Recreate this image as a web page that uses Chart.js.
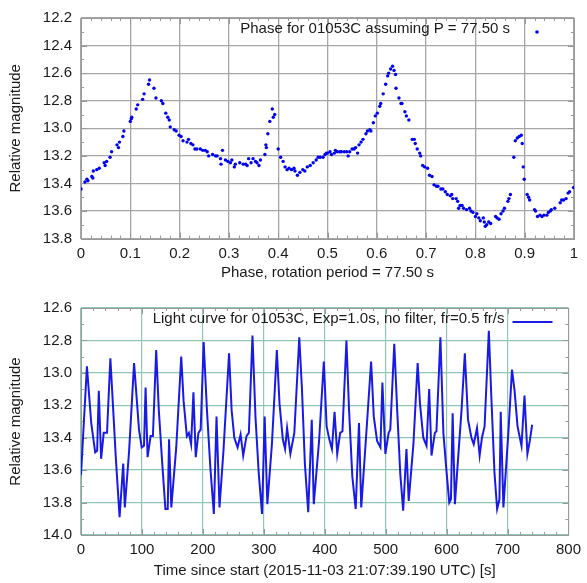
<!DOCTYPE html>
<html>
<head>
<meta charset="utf-8">
<script src="https://cdn.jsdelivr.net/npm/chart.js@4/dist/chart.umd.min.js"></script>
<style>
  body { margin: 0; background: #fff; }
  canvas { display: block; }
</style>
</head>
<body>
<canvas id="phaseChart" width="587" height="290"></canvas>
<canvas id="lightChart" width="587" height="293"></canvas>
<script>
// folded data, phase 0..1
const phase = [
  0.000, 0.008, 0.012, 0.014, 0.022, 0.024, 0.025, 0.032, 0.037, 0.047, 0.049, 0.052, 0.059, 0.062,
  0.073, 0.076, 0.078, 0.085, 0.087, 0.100, 0.102, 0.103, 0.112, 0.115, 0.125, 0.128, 0.137, 0.139,
  0.148, 0.152, 0.163, 0.166, 0.172, 0.176, 0.179, 0.181, 0.189, 0.193, 0.199, 0.203, 0.207, 0.215,
  0.218, 0.223, 0.227, 0.231, 0.235, 0.242, 0.247, 0.252, 0.256, 0.259, 0.267, 0.273, 0.276, 0.283,
  0.284, 0.287, 0.293, 0.298, 0.303, 0.306, 0.311, 0.313, 0.322, 0.329, 0.334, 0.337, 0.340, 0.345,
  0.349, 0.354, 0.357, 0.361, 0.364, 0.373, 0.375, 0.376, 0.379, 0.383, 0.388, 0.390, 0.393, 0.400,
  0.405, 0.410, 0.414, 0.418, 0.422, 0.427, 0.432, 0.434, 0.439, 0.444, 0.450, 0.454, 0.459, 0.465,
  0.471, 0.477, 0.481, 0.485, 0.491, 0.495, 0.498, 0.500, 0.505, 0.508, 0.514, 0.516, 0.520, 0.525,
  0.528, 0.534, 0.539, 0.542, 0.545, 0.550, 0.554, 0.557, 0.561, 0.564, 0.568, 0.572, 0.578, 0.581,
  0.586, 0.588, 0.593, 0.597, 0.601, 0.606, 0.608, 0.613, 0.618, 0.622, 0.624, 0.628, 0.632, 0.635,
  0.638, 0.639, 0.645, 0.649, 0.651, 0.657, 0.660, 0.665, 0.672, 0.676, 0.678, 0.682, 0.687, 0.689,
  0.693, 0.697, 0.703, 0.707, 0.712, 0.716, 0.721, 0.724, 0.730, 0.734, 0.739, 0.743, 0.749, 0.752,
  0.754, 0.761, 0.764, 0.766, 0.769, 0.773, 0.776, 0.782, 0.788, 0.791, 0.795, 0.800, 0.803, 0.807,
  0.810, 0.816, 0.818, 0.820, 0.823, 0.827, 0.831, 0.841, 0.844, 0.848, 0.852, 0.856, 0.859, 0.866,
  0.868, 0.871, 0.878, 0.881, 0.885, 0.889, 0.893, 0.895, 0.897, 0.899, 0.905, 0.908, 0.910, 0.920,
  0.922, 0.926, 0.931, 0.935, 0.939, 0.945, 0.948, 0.952, 0.954, 0.961, 0.972, 0.975, 0.979, 0.984,
  0.988, 0.991, 0.999
];
const phaseMag = [
  13.44, 13.39, 13.37, 13.38, 13.35, 13.36, 13.31, 13.30, 13.29, 13.25, 13.27, 13.24, 13.21, 13.17,
  13.12, 13.14, 13.10, 13.06, 13.02, 12.95, 12.93, 12.92, 12.86, 12.83, 12.79, 12.75, 12.68, 12.65,
  12.71, 12.78, 12.80, 12.82, 12.89, 12.92, 12.94, 12.99, 13.01, 13.02, 13.05, 13.06, 13.09, 13.10,
  13.08, 13.11, 13.12, 13.15, 13.15, 13.15, 13.16, 13.16, 13.17, 13.20, 13.19, 13.20, 13.20, 13.22,
  13.26, 13.16, 13.23, 13.24, 13.25, 13.23, 13.28, 13.26, 13.25, 13.26, 13.26, 13.27, 13.22, 13.25,
  13.22, 13.24, 13.25, 13.27, 13.23, 13.19, 13.12, 13.14, 13.04, 12.95, 12.86, 12.92, 12.90, 13.15,
  13.21, 13.24, 13.28, 13.30, 13.29, 13.30, 13.29, 13.31, 13.34, 13.32, 13.30, 13.31, 13.28, 13.27,
  13.25, 13.23, 13.21, 13.21, 13.21, 13.19, 13.18, 13.18, 13.17, 13.19, 13.18, 13.16, 13.17, 13.17,
  13.17, 13.17, 13.17, 13.20, 13.17, 13.15, 13.15, 13.14, 13.18, 13.12, 13.10, 13.08, 13.04, 13.02,
  13.01, 13.02, 12.96, 12.91, 12.89, 12.84, 12.82, 12.75, 12.68, 12.62, 12.60, 12.57, 12.55, 12.58,
  12.61, 12.71, 12.78, 12.82, 12.82, 12.88, 12.91, 12.94, 13.08, 13.08, 13.11, 13.15, 13.18, 13.20,
  13.27, 13.28, 13.29, 13.34, 13.35, 13.41, 13.42, 13.42, 13.44, 13.44, 13.46, 13.48, 13.49, 13.48,
  13.51, 13.51, 13.53, 13.58, 13.56, 13.56, 13.58, 13.59, 13.58, 13.60, 13.61, 13.64, 13.62, 13.65,
  13.67, 13.65, 13.68, 13.71, 13.70, 13.68, 13.69, 13.64, 13.65, 13.66, 13.62, 13.60, 13.58, 13.53,
  13.51, 13.48, 13.21, 13.09, 13.07, 13.06, 13.05, 13.11, 13.28, 13.37, 13.48, 13.50, 13.52, 13.59,
  13.60, 13.64, 13.63, 13.64, 13.63, 13.63, 13.61, 13.60, 13.59, 13.58, 13.54, 13.52, 13.52, 13.51,
  13.47, 13.46, 13.43
];

// light curve, seconds since start
const timeSec = [
  0, 9.7, 16.8, 23.3, 26.5, 29.2, 33, 37.3, 42.7, 48.2, 52, 57.4, 63.3, 69.3, 71.9, 79, 87.1, 95.2,
  99.6, 103.4, 106, 109.3, 114.2, 118, 123.4, 127.7, 133, 138.5, 142.3, 144.5, 148.2, 156.3, 164.5,
  168.3, 173.7, 177, 180.7, 184.5, 188.3, 192.7, 196.4, 201.3, 206.7, 212.2, 218, 222.4, 227.3, 233.8,
  243, 247.2, 251.6, 257, 261.9, 266.2, 271.6, 275.5, 281.4, 286.3, 291.7, 297.1, 301.4, 305.8, 313.3,
  321.4, 325.8, 331.2, 334.9, 338.2, 343.6, 350.1, 358.2, 362.5, 367.4, 372.9, 378.7, 382, 390.7,
  398.5, 403.1, 407.5, 411.8, 416.1, 420.5, 425.3, 429.1, 435.6, 439.9, 445.3, 450.8, 456.2, 459.9,
  467, 476.1, 480.5, 485.9, 491.4, 494.6, 499.5, 504.9, 507.6, 514.1, 518.9, 523.9, 528.7, 534.1,
  537.8, 545.5, 552.5, 556.3, 561.7, 567, 571.4, 575.2, 580.7, 583.3, 589.8, 594.7, 600.1, 604.4,
  607.1, 609.9, 613.6, 619, 624.5, 629.9, 635.2, 640.7, 644.5, 649.9, 654.2, 658, 662.3, 669.3,
  673.2, 678.6, 682.9, 686.7, 688.8, 693.2, 701.3, 707.3, 711.5, 716.4, 722.9, 727.8, 732.6, 736.5,
  740.4
];
const lightMag = [
  13.63, 12.96, 13.31, 13.49, 13.48, 13.11, 13.53, 13.37, 13.37, 12.91, 13.17, 13.54, 13.89, 13.56, 13.83, 13.48, 12.94, 13.35,
  13.46, 13.45, 13.09, 13.52, 13.39, 13.39, 12.86, 13.23, 13.54, 13.84, 13.84, 13.41, 13.83, 13.46, 12.90,
  13.17, 13.39, 13.37, 13.44, 13.12, 13.52, 13.37, 13.35, 12.81, 13.23, 13.58, 13.87, 13.27, 13.83, 13.48,
  12.88, 13.23, 13.40, 13.46, 13.38, 13.51, 13.39, 13.37, 12.77, 13.27, 13.62, 13.87, 13.27, 13.81, 13.44,
  12.86, 13.19, 13.41, 13.47, 13.34, 13.50, 13.37, 12.78, 13.09, 13.56, 13.86, 13.29, 13.81, 13.42,
  12.93, 13.33, 13.41, 13.47, 13.24, 13.50, 13.37, 13.36, 12.80, 13.23, 13.64, 13.84, 13.31, 13.83,
  13.44, 12.93, 13.27, 13.42, 13.46, 13.06, 13.50, 13.37, 13.35, 12.82, 13.23, 13.62, 13.85, 13.47,
  13.79, 13.44, 12.94, 13.19, 13.40, 13.45, 13.10, 13.51, 13.37, 13.36, 12.78, 13.37, 13.62, 13.80,
  13.78, 13.25, 13.81, 13.52, 13.23, 12.88, 13.29, 13.40, 13.44, 13.34, 13.51, 13.40, 13.33, 12.74,
  13.13, 13.62, 13.84, 13.78, 13.24, 13.83, 13.37, 12.98, 13.11, 13.33, 13.45, 13.14, 13.50, 13.42,
  13.32
];

const phaseLabel = 'Phase for 01053C assuming P = 77.50 s';
const lightLabel = 'Light curve for 01053C, Exp=1.0s, no filter, fr=0.5 fr/s';
const yTitle = 'Relative magnitude';
const phaseXTitle = 'Phase, rotation period = 77.50 s';
const lightXTitle = 'Time since start (2015-11-03 21:07:39.190 UTC) [s]';

Chart.defaults.font.family = '"Liberation Sans", Arial, sans-serif';
Chart.defaults.font.size = 15;
Chart.defaults.color = '#1a1a1a';

// gnuplot-like frame with small inward ticks on all four sides
const framePlugin = {
  id: 'frame',
  beforeDatasetsDraw(chart, args, opts) {
    const { ctx, chartArea: a } = chart;
    const xs = chart.scales.x, ys = chart.scales.y;
    ctx.save();
    ctx.strokeStyle = opts.color;
    ctx.lineWidth = 1;
    ctx.beginPath();
    for (let i = 0; ; i++) {
      const v = xs.min + i * opts.xStep;
      if (v > xs.max + 1e-9) break;
      const px = Math.round(xs.getPixelForValue(v)) + 0.5;
      const len = i % opts.xEvery === 0 ? 6 : 3;
      ctx.moveTo(px, a.bottom); ctx.lineTo(px, a.bottom - len);
      ctx.moveTo(px, a.top); ctx.lineTo(px, a.top + len);
    }
    for (let i = 0; ; i++) {
      const v = ys.min + i * opts.yStep;
      if (v > ys.max + 1e-9) break;
      const py = Math.round(ys.getPixelForValue(v)) + 0.5;
      const len = i % opts.yEvery === 0 ? 6 : 3;
      ctx.moveTo(a.left, py); ctx.lineTo(a.left + len, py);
      ctx.moveTo(a.right, py); ctx.lineTo(a.right - len, py);
    }
    ctx.stroke();
    ctx.strokeRect(Math.round(a.left) + 0.5, Math.round(a.top) + 0.5,
      Math.round(a.width), Math.round(a.height));
    ctx.restore();
  }
};

// key drawn inside the plot, text first then sample (gnuplot style)
const keyPlugin = {
  id: 'key',
  afterDatasetsDraw(chart, args, opts) {
    const { ctx, chartArea: a } = chart;
    const ds = chart.data.datasets[0];
    const y = a.top + 11;
    ctx.save();
    ctx.font = '15px "Liberation Sans", Arial, sans-serif';
    ctx.fillStyle = '#1a1a1a';
    ctx.textAlign = 'right';
    ctx.textBaseline = 'middle';
    ctx.fillText(ds.label, a.right - 64, y);
    if (opts.sample === 'dot') {
      ctx.fillStyle = ds.backgroundColor;
      ctx.beginPath();
      ctx.arc(a.right - 37, y + 3, 1.8, 0, Math.PI * 2);
      ctx.fill();
    } else {
      ctx.strokeStyle = ds.borderColor;
      ctx.lineWidth = ds.borderWidth;
      ctx.beginPath();
      ctx.moveTo(a.right - 56, y + 3);
      ctx.lineTo(a.right - 16, y + 3);
      ctx.stroke();
    }
    ctx.restore();
  }
};

function yAxis(min, max, gridColor) {
  return {
    type: 'linear', reverse: true, min: min, max: max,
    afterFit: (s) => { s.width = 81; },
    ticks: { stepSize: 0.2, padding: 9, callback: (v) => v.toFixed(1) },
    grid: { color: gridColor, lineWidth: 1.3, drawTicks: false },
    border: { display: false },
    title: { display: true, text: yTitle, padding: { top: 7, bottom: 0 } }
  };
}

new Chart(document.getElementById('phaseChart'), {
  type: 'scatter',
  data: {
    datasets: [{
      label: phaseLabel,
      data: phase.map((p, i) => ({ x: p, y: phaseMag[i] })),
      backgroundColor: '#0000f0',
      borderWidth: 0,
      pointRadius: 1.7
    }]
  },
  options: {
    responsive: false,
    animation: false,
    layout: { padding: { left: 0, right: 13, top: 11.6, bottom: 0 } },
    scales: {
      x: {
        type: 'linear', min: 0, max: 1,
        afterFit: (s) => { s.height = 51.4; },
        ticks: { stepSize: 0.1, padding: 6, maxRotation: 0, callback: (v) => String(+v.toFixed(2)) },
        grid: { color: '#a6a6a6', lineWidth: 1.3, drawTicks: false },
        border: { display: false },
        title: { display: true, text: phaseXTitle, padding: { top: 0, bottom: 8 } }
      },
      y: yAxis(12.2, 13.8, '#a6a6a6')
    },
    plugins: {
      legend: { display: false },
      tooltip: { enabled: false },
      frame: { color: '#999', xStep: 0.02, xEvery: 5, yStep: 0.1, yEvery: 2 },
      key: { sample: 'dot' }
    }
  },
  plugins: [framePlugin, keyPlugin]
});

new Chart(document.getElementById('lightChart'), {
  type: 'line',
  data: {
    datasets: [{
      label: lightLabel,
      data: timeSec.map((t, i) => ({ x: t, y: lightMag[i] })),
      borderColor: '#1a1ae6',
      borderWidth: 2,
      pointRadius: 0,
      tension: 0,
      fill: false
    }]
  },
  options: {
    responsive: false,
    animation: false,
    layout: { padding: { left: 0, right: 13, top: 17, bottom: 0 } },
    scales: {
      x: {
        type: 'linear', min: 0, max: 800,
        afterFit: (s) => { s.height = 48; },
        ticks: { stepSize: 100, padding: 6, maxRotation: 0 },
        grid: { color: '#8fc7b3', lineWidth: 1.2, drawTicks: false },
        border: { display: false },
        title: { display: true, text: lightXTitle, padding: { top: 0, bottom: 3 } }
      },
      y: yAxis(12.6, 14.0, '#8fc7b3')
    },
    plugins: {
      legend: { display: false },
      tooltip: { enabled: false },
      frame: { color: '#999', xStep: 20, xEvery: 5, yStep: 0.1, yEvery: 2 },
      key: { sample: 'line' }
    }
  },
  plugins: [framePlugin, keyPlugin]
});
</script>
</body>
</html>
